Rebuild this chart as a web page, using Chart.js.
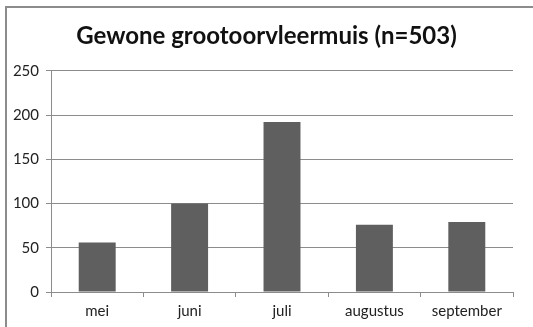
<!DOCTYPE html>
<html>
<head>
<meta charset="utf-8">
<script src="https://cdn.jsdelivr.net/npm/chart.js@4"></script>
<style>
  html, body { margin: 0; padding: 0; background: #fff; overflow: hidden; }
  #wrap { position: relative; width: 533px; height: 327px; }
  #frame { position: absolute; left: 5px; top: 6px; width: 600px; height: 400px;
           border-left: 2px solid #8c8c8c; border-top: 2px solid #8c8c8c; pointer-events: none; }
  canvas { position: absolute; left: 0; top: 0; }
</style>
</head>
<body>
<div id="wrap">
  <canvas id="c" width="533" height="327"></canvas>
  <div id="frame"></div>
</div>
<script>
// Monthly counts, May through September
const months = ['mei', 'juni', 'juli', 'augustus', 'september'];
const counts = [56, 100, 192, 76, 79];
const yTicks = [0, 50, 100, 150, 200, 250];
const chartTitle = 'Gewone grootoorvleermuis (n=503)';

const FONT = 'Lato, "Open Sans", sans-serif';
const gridColor = '#8c8c8c';

new Chart(document.getElementById('c'), {
  type: 'bar',
  data: {
    labels: months,
    datasets: [{
      data: counts,
      backgroundColor: '#5f5f5f',
      borderWidth: 0,
      barPercentage: 0.4,
      categoryPercentage: 1.0
    }]
  },
  options: {
    responsive: false,
    animation: false,
    events: [],
    layout: { padding: 0 },
    plugins: {
      legend: { display: false },
      tooltip: { enabled: false },
      title: {
        display: true,
        text: chartTitle,
        color: '#111',
        font: { family: FONT, size: 24, weight: 'bold', lineHeight: 1.2 },
        padding: { top: 22, bottom: 20 }
      }
    },
    scales: {
      x: {
        offset: true,
        grid: { drawOnChartArea: false, drawTicks: true, tickLength: 5, color: gridColor, offset: true },
        border: { display: true, color: gridColor, width: 1 },
        ticks: { color: '#222', font: { family: FONT, size: 15 }, padding: 5 },
        afterFit: s => { s.height = 35; }
      },
      y: {
        min: 0,
        max: 250,
        afterBuildTicks: s => { s.ticks = yTicks.map(v => ({ value: v })); },
        grid: { color: gridColor, tickLength: 5, lineWidth: 1 },
        border: { display: true, color: gridColor, width: 1 },
        ticks: { color: '#222', font: { family: FONT, size: 15 }, padding: 7 },
        afterFit: s => { s.width = 51; }
      },
      // empty right-hand margin so the plot ends short of the canvas edge
      yRight: {
        position: 'right',
        grid: { display: false },
        border: { display: false },
        ticks: { display: false },
        afterFit: s => { s.width = 20; }
      }
    }
  }
});
</script>
</body>
</html>
